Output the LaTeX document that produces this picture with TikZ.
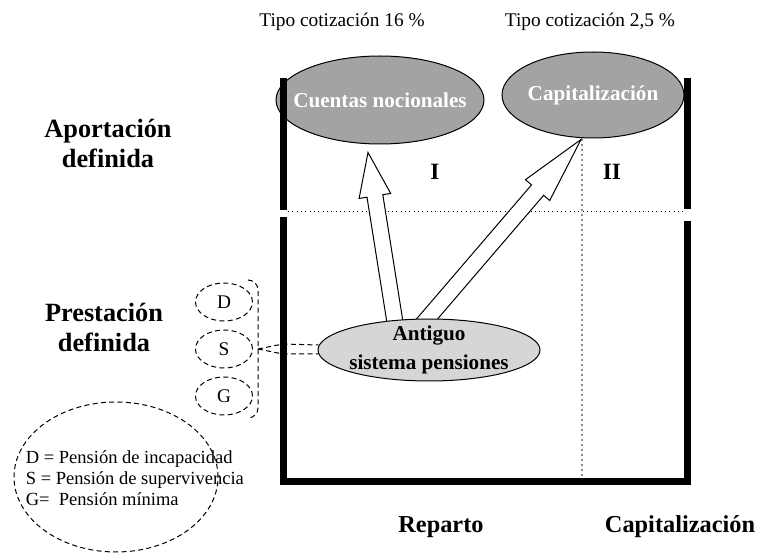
\documentclass[tikz,border=0pt]{standalone}
\usepackage{fontspec}
\setmainfont{Liberation Serif}
\usepackage{tikz}
\usetikzlibrary{shapes.geometric, arrows, calc, positioning}
\definecolor{darkfill}{gray}{0.64}
\definecolor{lightfill}{gray}{0.84}
\definecolor{dotgray}{gray}{0.55}
\tikzstyle{title} = [font=\fontsize{11.6}{14}\selectfont]
\tikzstyle{heading} = [font=\fontsize{15.8}{18}\selectfont\bfseries, align=center]
\tikzstyle{footer} = [font=\fontsize{14.6}{17}\selectfont\bfseries]
\tikzstyle{roman} = [font=\fontsize{14}{16}\selectfont\bfseries]
\tikzstyle{wall} = [line width=4.2pt]
\tikzstyle{dashline} = [dash pattern=on 3pt off 2pt, line width=0.6pt]
\tikzstyle{hollow} = [draw=black, fill=white, line width=0.6pt, line join=miter]
\tikzstyle{fundNode} = [
                ellipse,
                draw=black,
                fill=darkfill,
                line width=0.6pt,
                inner sep=0pt
            ]
\tikzstyle{fundText} = [text=white, font=\fontsize{12.7}{17.5}\selectfont\bfseries]
\tikzstyle{letterNode} = [
                ellipse,
                dashline,
                minimum width=34.2pt,
                minimum height=22.8pt,
                inner sep=0pt,
                draw=black,
                font=\fontsize{11.6}{14}\selectfont
            ]
\newcommand{\hollowArrow}[3]{%
  \coordinate (hb) at ($(#2)!#3!(#1)$);
  \draw[hollow] ($(#1)!4.8pt!90:(#2)$) -- ($(hb)!4.8pt!90:(#2)$) -- ($(hb)!9.6pt!90:(#2)$) -- (#2)
    -- ($(hb)!9.6pt!-90:(#2)$) -- ($(hb)!4.8pt!-90:(#2)$) -- ($(#1)!4.8pt!-90:(#2)$) -- cycle;
}

\begin{document}
\begin{tikzpicture}[x=0.6pt, y=-0.6pt, node distance = 28.2pt]
                            \useasboundingbox (0,0) rectangle (758,554);
                            \node (t1) [title] at (342,22) {Tipo cotización 16 \%};
                            \node (t2) [title] at (590,22) {Tipo cotización 2,5 \%};
                            \node (ap) [heading] at (108,143) {Aportación\\definida};
                            \node (pr) [heading] at (104,327) {Prestación\\definida};
                            \node (rep) [footer] at (441,527) {Reparto};
                            \node (capb) [footer] at (680,527) {Capitalización};
                            \draw [wall] (283.5,217) -- (283.5,482) -- (687.5,482) -- (687.5,221);
                            \draw [dotted, line width=0.6pt] (288,212) -- (684,212);
                            \draw [dotted, dotgray, line width=1pt] (582,139) -- (582,479);
                            \node (i) [roman] at (435,172) {I};
                            \node (ii) [roman] at (612,172) {II};
                            \node (cn) [fundNode, minimum width=124.8pt, minimum height=52.8pt,
                                label={[fundText]center:Cuentas nocionales}] at (380,100) {};
                            \node (cap) [fundNode, minimum width=109.2pt, minimum height=51.6pt,
                                label={[fundText]center:Capitalización}] at (593,95) {};
                            \draw [wall] (283.5,78) -- (283.5,210);
                            \draw [wall] (687.5,78) -- (687.5,209);
                            \coordinate (oc) at (429,350);
                            \coordinate (a1) at ($(oc)+(-32,-15)$);
                            \coordinate (b1) at ($(cn.south)+(-12,8)$);
                            \coordinate (a2) at ($(oc)+(-14,-17)$);
                            \coordinate (b2) at ($(cap.south)+(-12,1)$);
                            \hollowArrow{a1}{b1}{26.4pt}
                            \hollowArrow{a2}{b2}{40pt}
                            \node (old) [fundNode, fill=lightfill, minimum width=133.2pt, minimum height=37.2pt,
                                label={[fundText, text=black, align=center]center:Antiguo\\sistema pensiones}] at (oc) {};
                            \node (d) [letterNode] at (224,302) {D};
                            \node (s) [letterNode, below of=d] {S};
                            \node (g) [letterNode, below of=s] {G};
                            \draw [dashline, rounded corners=6pt] (248,280) -| (258,418) -- (248,418);
                            \coordinate (brk) at (258,349);
                            \draw [dashline] (brk) -- (283,344) -- ($(old.west)+(1,-5)$);
                            \draw [dashline] (brk) -- (283,354) -- ($(old.west)+(1,4)$);
                            \draw [wall] (283.5,217) -- (283.5,482);
                            \node (leg) [ellipse, dashline, draw=black, minimum width=122.4pt, minimum height=90pt] at (116,477) {};
                            \node (legtext) [anchor=west, align=left, font=\fontsize{11.1}{12.6}\selectfont] at (20,478)
                                {D = Pensión de incapacidad\\S = Pensión de supervivencia\\G=~ Pensión mínima};
                        \end{tikzpicture}
\end{document}
